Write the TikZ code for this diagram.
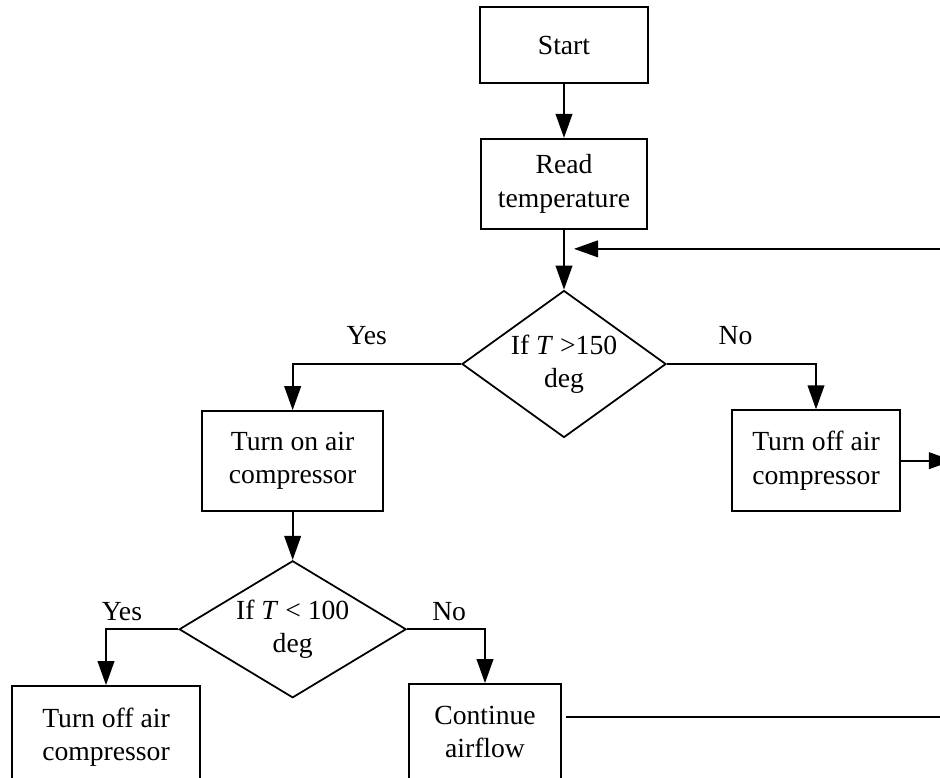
\documentclass[tikz,border=0pt]{standalone}
\usepackage{fontspec}
\setmainfont{Liberation Serif}
\usetikzlibrary{positioning}
\usetikzlibrary{arrows.meta}
\usetikzlibrary{shapes.geometric,calc}

\tikzset{
  block/.style={draw, rectangle, align=center, line width=1.5pt},
  decision/.style={draw, diamond, align=center, inner sep=0pt, line width=1.5pt},
  flow/.style={line width=1.5pt, -{Triangle[length=0.72cm,width=0.5cm]}},
  branch/.style={inner sep=0pt}
}

\begin{document}
\begin{tikzpicture}[font=\fontsize{23.6}{28.5}\selectfont]
\useasboundingbox (0,0) rectangle (28.2,-23.31);
\clip (0,0) rectangle (28.2,-23.31);

 % Start and reading
 \node[block, minimum width=5.04cm, minimum height=2.28cm] (start) at (16.92,-1.35) {Start};
 \node[block,
    minimum width=4.98cm,
    minimum height=2.7cm,
    below=1.62cm of start
 ] (read) {Read\\temperature};

 % First test
 \node[decision,
    aspect=1.39,
    minimum width=6.12cm,
    minimum height=4.41cm,
    below=1.8cm of read
 ] (test1) {If \textit{T} >150\\deg};

\node[block,
    minimum width=5.43cm,
    minimum height=3cm
] (on) at (8.78,-13.83) {Turn on air\\compressor};

\node[block,
    minimum width=5.04cm,
    minimum height=3.03cm
] (off1) at (24.48,-13.82) {Turn off air\\compressor};

 % Second test
 \node[decision,
    aspect=1.66,
    minimum width=6.81cm,
    minimum height=4.11cm,
    below=1.44cm of on
 ] (test2) {If \textit{T} < 100\\deg};

\node[block,
    minimum width=5.64cm,
    minimum height=3.06cm
] (off2) at (3.18,-22.11) {Turn off air\\compressor};

\node[block,
    minimum width=4.56cm,
    minimum height=2.88cm
] (cont) at (14.55,-21.96) {Continue\\airflow};

\draw[flow] (start.south) -- (read.north);
\draw[flow] (read.south) -- (test1.north);

\coordinate (fb) at ($(read.south)!0.32!(test1.north)$);
\draw[flow] (fb -| 29,0) -- ([xshift=0.3cm]fb);

\draw[flow] (test1.west) -| (on.north) node[branch, pos=0.28, above=0.54cm]{Yes};
\draw[flow] (test1.east) -| (off1.north) node[branch, pos=0.23, above=0.54cm]{No};
\draw[flow] (off1.east) -- ++ (1.56,0);

\draw[flow] (on.south) -- (test2.north);
\draw[flow] (test2.west) -| (off2.north) node[branch, pos=0.39, above=0.24cm]{Yes};
\draw[flow] (test2.east) -| (cont.north) node[branch, pos=0.27, above=0.24cm]{No};

\draw[line width=1.5pt] ([xshift=0.12cm,yshift=0.45cm]cont.east) -- ++ (13,0);
\end{tikzpicture}
\end{document}
